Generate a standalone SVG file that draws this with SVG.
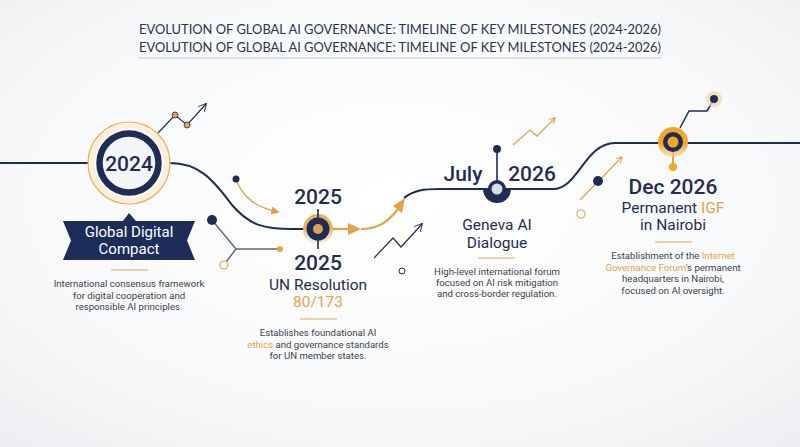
<svg xmlns="http://www.w3.org/2000/svg" width="800" height="447" viewBox="0 0 800 447">
<defs>
<radialGradient id="bg" cx="50%" cy="45%" r="75%">
<stop offset="0" stop-color="#ffffff"/>
<stop offset="0.6" stop-color="#f8f9fa"/>
<stop offset="1" stop-color="#eceef1"/>
</radialGradient>
<radialGradient id="glow" cx="50%" cy="50%" r="50%">
<stop offset="0.6" stop-color="#fbe3bf"/>
<stop offset="1" stop-color="#fdf3e4"/>
</radialGradient>
<linearGradient id="oglow" x1="0" y1="0" x2="0" y2="1">
<stop offset="0" stop-color="#e9ac5e"/>
<stop offset="0.5" stop-color="#edb36a"/>
<stop offset="1" stop-color="#f6dcb5" stop-opacity="0.4"/>
</linearGradient>
<linearGradient id="dglow" x1="0" y1="0" x2="0" y2="1">
<stop offset="0" stop-color="#f6a52a"/>
<stop offset="0.55" stop-color="#f6a52a"/>
<stop offset="1" stop-color="#f9cd8a" stop-opacity="0.6"/>
</linearGradient>
<marker id="ah-o" viewBox="0 0 10 10" refX="8" refY="5" markerWidth="6" markerHeight="6" orient="auto">
<path d="M0,0 L10,5 L0,10 z" fill="#e3a24a"/>
</marker>
<marker id="ah-ol" viewBox="0 0 10 10" refX="9" refY="5" markerWidth="7" markerHeight="7" orient="auto" markerUnits="userSpaceOnUse">
<path d="M0,0 L10,5 L0,10" fill="none" stroke="#e3a24a" stroke-width="1.3"/>
</marker>
<marker id="ah-n" viewBox="0 0 10 10" refX="9" refY="5" markerWidth="8" markerHeight="8" orient="auto" markerUnits="userSpaceOnUse">
<path d="M0,0 L10,5 L0,10" fill="none" stroke="#1f2d55" stroke-width="1.2"/>
</marker>
</defs>
<style>
.title{font-family:"Lato","Open Sans",sans-serif;font-size:13px;fill:#2b3350;}
.year{font-family:"Roboto","Liberation Sans",Arial,sans-serif;font-size:21px;font-weight:500;fill:#1f2d55;text-anchor:middle;}
.head{font-family:"Roboto","Liberation Sans",Arial,sans-serif;font-size:15.5px;fill:#1f2d55;text-anchor:middle;}
.desc{font-family:"Roboto","Liberation Sans",Arial,sans-serif;font-size:9.6px;fill:#3a3f4c;text-anchor:middle;}
.or{fill:#e3a24a;}
.sep{stroke:#e6c594;stroke-width:1.3;}
.navy{stroke:#1f2d55;fill:none;}
.orl{stroke:#e3a24a;fill:none;}
</style>
<rect width="800" height="447" fill="url(#bg)"/>

<g id="title">
<text class="title" x="400" y="34" text-anchor="middle" textLength="522" lengthAdjust="spacingAndGlyphs">EVOLUTION OF GLOBAL AI GOVERNANCE: TIMELINE OF KEY MILESTONES (2024-2026)</text>
<text class="title" x="400" y="52" text-anchor="middle" textLength="522" lengthAdjust="spacingAndGlyphs">EVOLUTION OF GLOBAL AI GOVERNANCE: TIMELINE OF KEY MILESTONES (2024-2026)</text>
<line x1="138" y1="58" x2="662" y2="58" stroke="#dfe0e3" stroke-width="1.8"/>
</g>

<g id="connectors">
<path class="navy" stroke-width="2" d="M0,163 H170 C198,163 212,178 232,205 C250,226 265,229 292,229 H312"/>
<path class="orl" stroke-width="2.2" d="M326,229 H350"/>
<path d="M348,223 L361,229 L348,235 z" fill="#e3a24a"/>
<path class="orl" stroke-width="2.2" d="M361,229 C378,229 388,222 398,209"/>
<path d="M393,206 L405,198 L402,213 z" fill="#e3a24a"/>
<path class="navy" stroke-width="2" d="M404,198 C414,190 424,189 440,189 H553 C578,189 585,143 615,143 H800"/>
<polyline class="navy" stroke-width="1.2" points="158,133 175,115 187,125 206,104" marker-end="url(#ah-n)"/>
<circle cx="175" cy="115" r="3" fill="#d9a35a" stroke="#1f2d55" stroke-width="0.8"/>
<circle cx="187" cy="125" r="3" fill="#d9a35a" stroke="#1f2d55" stroke-width="0.8"/>
<path class="orl" stroke-width="1.4" d="M236,180 C244,198 255,207 278,212" marker-end="url(#ah-o)"/>
<circle cx="236" cy="179" r="3.5" fill="#1f2d55"/>
<polyline stroke="#5b6580" stroke-width="1.4" fill="none" points="212,220 236,249 280,249"/>
<line x1="236" y1="249" x2="226" y2="262" stroke="#5b6580" stroke-width="1.4"/>
<circle cx="212" cy="220" r="5" fill="#1f2d55"/>
<circle cx="280" cy="249" r="3" fill="#e3a24a"/>
<circle cx="224" cy="265" r="4" fill="#fff" stroke="#e3a24a" stroke-width="1.2"/>
<polyline class="navy" stroke-width="1.2" points="374,258 393,238 401,247 422,224" marker-end="url(#ah-n)"/>
<circle cx="402" cy="271" r="3" fill="none" stroke="#1f2d55" stroke-width="1"/>
<polyline class="orl" stroke-width="1.3" points="513,145 530,130 537,136 555,118" marker-end="url(#ah-ol)"/>
<line class="orl" stroke-width="1.2" x1="580" y1="200" x2="622" y2="157" marker-end="url(#ah-ol)"/>
<circle cx="598" cy="181" r="5" fill="#1f2d55"/>
<circle cx="581" cy="214" r="4" fill="#fff" stroke="#e3a24a" stroke-width="1.2"/>
<polyline class="navy" stroke-width="1.5" points="680,128 689,111 707,111 713,101"/>
<circle cx="714" cy="99" r="8" fill="#f4d9b0" opacity="0.8"/>
<circle cx="714" cy="99" r="4" fill="#1f2d55"/>
</g>

<g id="node-2024">
<circle cx="129" cy="163" r="41" fill="url(#glow)" stroke="#e9ae5a" stroke-width="1.2"/>
<circle cx="129" cy="163" r="35" fill="#fff" opacity="0.7"/>
<circle cx="129" cy="163" r="29.5" fill="#f4f5f8" stroke="#1f2d55" stroke-width="6.5"/>
<text class="year" x="129" y="170.5">2024</text>
<path d="M63,221 H123 L129,213 L136,221 H195 L187,240.5 L195,260 H63 L71,240.5 z" fill="#1d2d5a"/>
<text x="129" y="237" font-family="Roboto,Liberation Sans,Arial,sans-serif" font-size="15" fill="#fff" text-anchor="middle">Global Digital</text>
<text x="129" y="253.5" font-family="Roboto,Liberation Sans,Arial,sans-serif" font-size="15" fill="#fff" text-anchor="middle">Compact</text>
<line class="sep" x1="111" y1="270" x2="148" y2="270"/>
<text class="desc" x="129" y="287">International consensus framework</text>
<text class="desc" x="129" y="298.5">for digital cooperation and</text>
<text class="desc" x="129" y="310">responsible AI principles.</text>
</g>

<g id="node-2025">
<circle cx="318" cy="229" r="15" fill="url(#oglow)"/>
<line class="navy" stroke-width="1.6" x1="318" y1="209" x2="318" y2="249"/>
<circle cx="318" cy="229" r="11.5" fill="#1f2d55"/>
<circle cx="318" cy="229" r="5" fill="#dba25a"/>
<text class="year" x="318" y="204">2025</text>
<text class="year" x="318" y="270">2025</text>
<text class="head" x="318" y="290">UN Resolution</text>
<text class="head or" x="318" y="307">80/173</text>
<line class="sep" x1="300" y1="319" x2="337" y2="319"/>
<text class="desc" x="318" y="336">Establishes foundational AI</text>
<text class="desc" x="318" y="347.5"><tspan class="or">ethics</tspan> and governance standards</text>
<text class="desc" x="318" y="359">for UN member states.</text>
</g>

<g id="node-july-2026">
<line class="navy" stroke-width="1.6" x1="497" y1="149" x2="497" y2="189"/>
<circle cx="497" cy="149" r="4" fill="#1f2d55"/>
<path d="M483,189 A14,14 0 0 0 511,189 z" fill="#1f2d55"/>
<circle cx="497" cy="189" r="9" fill="#1f2d55"/>
<circle cx="497" cy="189" r="5.5" fill="#d9dce3"/>
<text class="year" x="463" y="181">July</text>
<text class="year" x="532" y="181">2026</text>
<text class="head" x="497" y="230">Geneva AI</text>
<text class="head" x="497" y="247.5">Dialogue</text>
<line class="sep" x1="478" y1="258" x2="515" y2="258"/>
<text class="desc" x="497" y="275">High-level international forum</text>
<text class="desc" x="497" y="286">focused on AI risk mitigation</text>
<text class="desc" x="497" y="297">and cross-border regulation.</text>
</g>

<g id="node-dec-2026">
<line class="orl" stroke-width="2" x1="673" y1="143" x2="673" y2="166"/>
<circle cx="673" cy="167" r="4" fill="#f5a623"/>
<circle cx="673" cy="142" r="15" fill="url(#dglow)"/>
<circle cx="673" cy="142" r="10" fill="#1f2d55"/>
<circle cx="673" cy="142" r="5.5" fill="#f5a623"/>
<text class="year" x="673" y="194">Dec 2026</text>
<text class="head" x="673" y="212.5">Permanent <tspan class="or">IGF</tspan></text>
<text class="head" x="673" y="229.5">in Nairobi</text>
<line class="sep" x1="655" y1="242" x2="692" y2="242"/>
<text class="desc" x="673" y="259">Establishment of the <tspan class="or">Internet</tspan></text>
<text class="desc" x="673" y="270.5"><tspan class="or">Governance Forum</tspan>'s permanent</text>
<text class="desc" x="673" y="282">headquarters in Nairobi,</text>
<text class="desc" x="673" y="293.5">focused on AI oversight.</text>
</g>
</svg>
